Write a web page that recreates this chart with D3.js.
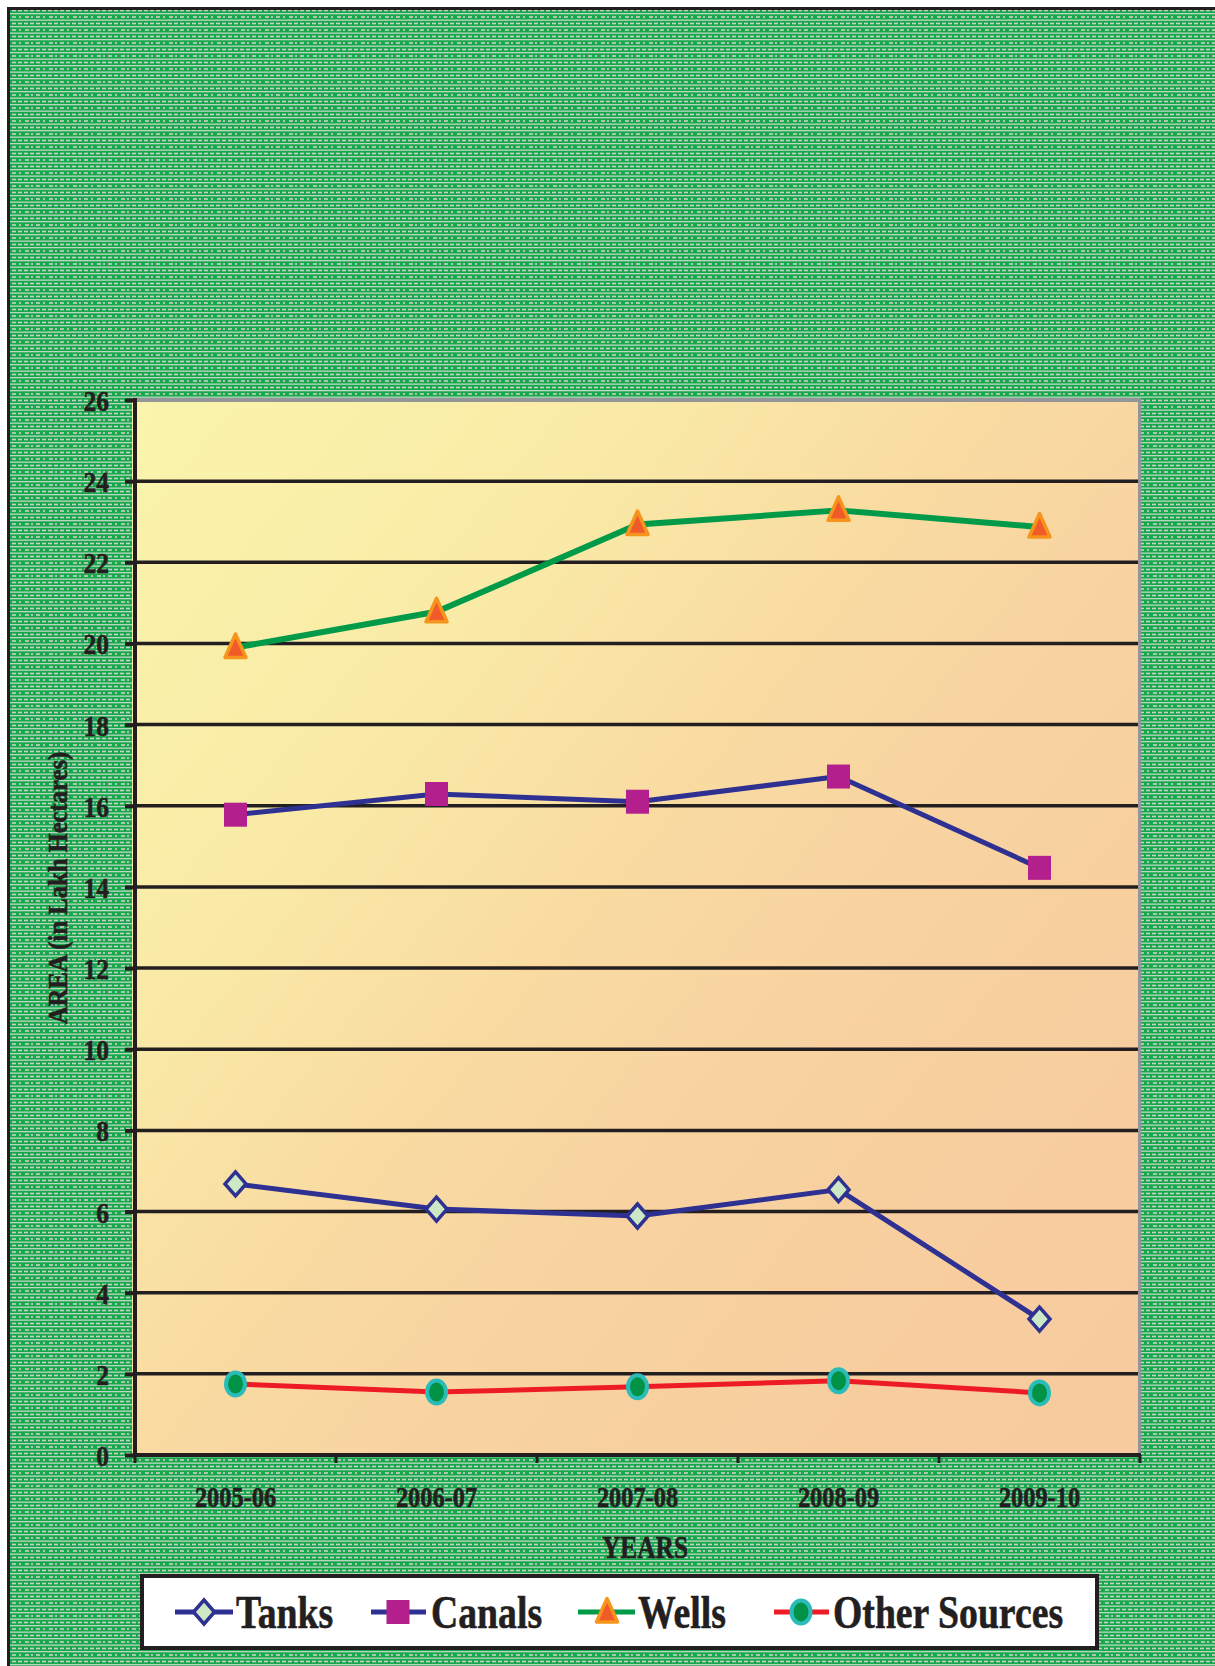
<!DOCTYPE html>
<html>
<head>
<meta charset="utf-8">
<script src="https://cdn.jsdelivr.net/npm/d3@7"></script>
<style>
  html, body { margin: 0; padding: 0; background: #ffffff; }
  svg { display: block; }
  text { font-family: "Liberation Serif", "Times New Roman", serif; font-weight: bold; fill: #231f20; stroke: #231f20; stroke-width: 0.6; }
</style>
</head>
<body>
<script>
// ---------- data ----------
const categories = ["2005-06", "2006-07", "2007-08", "2008-09", "2009-10"];
const tanks  = [6.68, 6.06, 5.89, 6.54, 3.35];
const canals = [15.78, 16.29, 16.10, 16.72, 14.47];
const wells  = [19.90, 20.78, 22.93, 23.28, 22.87];
const others = [1.75, 1.55, 1.68, 1.83, 1.53];
const yTicks = [0, 2, 4, 6, 8, 10, 12, 14, 16, 18, 20, 22, 24, 26];
const seriesNames = ["Tanks", "Canals", "Wells", "Other Sources"];
const yTitle = "AREA (in Lakh Hectares)";
const xTitle = "YEARS";

// ---------- layout ----------
const W = 1215, H = 1666;
const plot = { left: 135, right: 1140, top: 400, bottom: 1455 };

const svg = d3.select("body").append("svg").attr("width", W).attr("height", H);
const defs = svg.append("defs");

// background pattern
const pat = defs.append("pattern").attr("id", "bgpat").attr("patternUnits", "userSpaceOnUse")
  .attr("width", 24).attr("height", 13);
pat.append("rect").attr("width", 24).attr("height", 13).attr("fill", "#17a84b");
pat.append("rect").attr("y", 0).attr("width", 24).attr("height", 1.3).attr("fill", "#bdd6c3");
pat.append("rect").attr("y", 6.5).attr("width", 24).attr("height", 1.3).attr("fill", "#bdd6c3");
[[1,4],[7,2],[12,4],[19,2]].forEach(d => pat.append("rect").attr("x", d[0]).attr("y", 3.2).attr("width", d[1]).attr("height", 1.6).attr("fill", "#c9d0ca"));
[[0,4],[6,4],[12,4],[18,4]].forEach(d => pat.append("rect").attr("x", d[0]).attr("y", 9.7).attr("width", d[1]).attr("height", 1.6).attr("fill", "#c9d0ca"));

// plot gradient
const grad = defs.append("linearGradient").attr("id", "plotgrad")
  .attr("x1", 0).attr("y1", 0).attr("x2", 1).attr("y2", 0.85);
[[0, "#faf4ac"], [0.28, "#f9eba7"], [0.48, "#f9dca2"], [0.68, "#f8d2a0"], [1, "#f7cb9e"]]
  .forEach(s => grad.append("stop").attr("offset", s[0]).attr("stop-color", s[1]));

// background + frame
svg.append("rect").attr("x", 7).attr("y", 7).attr("width", W - 7).attr("height", H - 7).attr("fill", "url(#bgpat)");
svg.append("line").attr("x1", 7).attr("x2", W).attr("y1", 8.5).attr("y2", 8.5).attr("stroke", "#231f20").attr("stroke-width", 3);
svg.append("line").attr("x1", 8.5).attr("x2", 8.5).attr("y1", 7).attr("y2", H).attr("stroke", "#231f20").attr("stroke-width", 3);

// ---------- scales ----------
const x = d3.scaleBand().domain(categories).range([plot.left, plot.right]).padding(0);
const y = d3.scaleLinear().domain([0, 26]).range([plot.bottom, plot.top]);
const cx = c => x(c) + x.bandwidth() / 2;

// plot area
svg.append("rect").attr("x", 132).attr("y", plot.top).attr("width", plot.right + 1 - 132)
  .attr("height", plot.bottom - plot.top).attr("fill", "url(#plotgrad)");

// gridlines
svg.append("g").selectAll("line").data(yTicks.filter(v => v > 0 && v < 26)).join("line")
  .attr("x1", plot.left).attr("x2", plot.right - 2)
  .attr("y1", d => y(d)).attr("y2", d => y(d))
  .attr("stroke", "#231f20").attr("stroke-width", 3.5);

// plot top and right border (grey)
svg.append("line").attr("x1", 132).attr("x2", plot.right + 1).attr("y1", plot.top).attr("y2", plot.top)
  .attr("stroke", "#939598").attr("stroke-width", 4);
svg.append("line").attr("x1", plot.right - 0.5).attr("x2", plot.right - 0.5).attr("y1", plot.top).attr("y2", plot.bottom)
  .attr("stroke", "#939598").attr("stroke-width", 3);

// y axis
const ySx = 0.85;
const yAxis = svg.append("g").attr("transform", `translate(${plot.left},0)`)
  .call(d3.axisLeft(y).tickValues(yTicks).tickSize(10).tickPadding(16).tickFormat(d3.format("d")));
yAxis.select(".domain").attr("stroke", "#231f20").attr("stroke-width", 4)
  .attr("d", `M0,${plot.top - 2}V${plot.bottom + 2}`);
yAxis.selectAll(".tick line").attr("stroke", "#231f20").attr("stroke-width", 4);
yAxis.selectAll(".tick text")
  .attr("font-size", 30).attr("fill", "#231f20")
  .attr("x", -26 / ySx).attr("dy", "0.35em")
  .attr("transform", `scale(${ySx},1)`);

// x axis
const xSx = 0.84;
const xAxis = svg.append("g").attr("transform", `translate(0,${plot.bottom})`)
  .call(d3.axisBottom(x).tickSize(0).tickPadding(0));
xAxis.select(".domain").attr("stroke", "#231f20").attr("stroke-width", 4)
  .attr("d", `M${plot.left - 2},0H${plot.right + 1}`);
xAxis.selectAll(".tick text")
  .attr("font-size", 29).attr("fill", "#231f20")
  .attr("y", 52).attr("dy", 0)
  .attr("transform", `scale(${xSx},1)`);
// boundary tick marks
const bounds = categories.map(c => x(c)).concat([x.range()[1]]);
svg.append("g").selectAll("line").data(bounds).join("line")
  .attr("x1", d => d).attr("x2", d => d).attr("y1", plot.bottom).attr("y2", plot.bottom + 8)
  .attr("stroke", "#231f20").attr("stroke-width", 3);

// axis titles
svg.append("text").attr("transform", `translate(645,1558) scale(0.82,1)`)
  .attr("text-anchor", "middle").attr("font-size", 31).text(xTitle);
svg.append("text").attr("transform", `translate(67,888) rotate(-90) scale(0.88,1)`)
  .attr("text-anchor", "middle").attr("font-size", 28).text(yTitle);

// ---------- series ----------
const markerDefs = {
  diamond:  g => g.append("path").attr("d", "M0,-12 L10.5,0 L0,12 L-10.5,0 Z").attr("fill", "#cde8c4").attr("stroke", "#2e3192").attr("stroke-width", 3.5),
  square:   g => g.append("rect").attr("x", -11.5).attr("y", -12).attr("width", 23).attr("height", 24).attr("fill", "#b41f8e"),
  triangle: g => g.append("path").attr("d", "M0,-13.5 L10.5,10 L-10.5,10 Z").attr("fill", "#f15a29").attr("stroke", "#f7941d").attr("stroke-width", 3.5).attr("stroke-linejoin", "round"),
  circle:   g => g.append("ellipse").attr("rx", 9.5).attr("ry", 11.5).attr("fill", "#009245").attr("stroke", "#2bbbb9").attr("stroke-width", 4)
};
const series = [
  { name: seriesNames[0], values: tanks,  color: "#2e3192", width: 5, marker: "diamond" },
  { name: seriesNames[1], values: canals, color: "#2e3192", width: 5, marker: "square" },
  { name: seriesNames[2], values: wells,  color: "#009a49", width: 6, marker: "triangle" },
  { name: seriesNames[3], values: others, color: "#ed1c24", width: 5, marker: "circle" }
];

const line = d3.line().x(d => cx(d.c)).y(d => y(d.v));
series.forEach(s => {
  const pts = categories.map((c, i) => ({ c, v: s.values[i] }));
  svg.append("path").datum(pts).attr("d", line).attr("fill", "none")
    .attr("stroke", s.color).attr("stroke-width", s.width).attr("stroke-linejoin", "round");
});
series.forEach(s => {
  const pts = categories.map((c, i) => ({ c, v: s.values[i] }));
  svg.append("g").selectAll("g").data(pts).join("g")
    .attr("transform", d => `translate(${cx(d.c)},${y(d.v)})`)
    .each(function () { markerDefs[s.marker](d3.select(this)); });
});

// ---------- legend ----------
svg.append("rect").attr("x", 142).attr("y", 1576).attr("width", 955).attr("height", 72)
  .attr("fill", "#ffffff").attr("stroke", "#231f20").attr("stroke-width", 4);
const legendPos = [
  { lx1: 175, lx2: 233, mx: 204, tx: 236 },
  { lx1: 371, lx2: 426, mx: 398, tx: 431 },
  { lx1: 578, lx2: 635, mx: 607, tx: 638 },
  { lx1: 774, lx2: 829, mx: 801, tx: 833 }
];
const lgSx = 0.82;
series.forEach((s, i) => {
  const p = legendPos[i];
  svg.append("line").attr("x1", p.lx1).attr("x2", p.lx2).attr("y1", 1612).attr("y2", 1612)
    .attr("stroke", s.color).attr("stroke-width", 5);
  const g = svg.append("g").attr("transform", `translate(${p.mx},1612)`);
  markerDefs[s.marker](g);
  svg.append("text").attr("transform", `translate(${p.tx},1628) scale(${lgSx},1)`)
    .attr("font-size", 46).text(s.name);
});
</script>
</body>
</html>
